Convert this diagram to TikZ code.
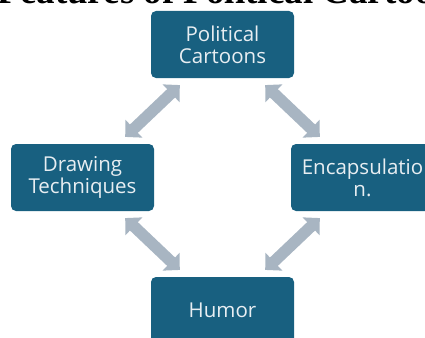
\documentclass[tikz,border=0pt]{standalone}
\usepackage{fontspec}
\setmainfont{Liberation Serif}
\newfontfamily\boxfont{Open Sans}
\usetikzlibrary{arrows.meta,calc}
\definecolor{boxblue}{RGB}{24,96,128}
\definecolor{arrowgray}{RGB}{168,181,194}
\definecolor{boxtext}{RGB}{232,238,242}
\tikzset{
  topicbox/.style={fill=boxblue, rounded corners=5pt, minimum width=143pt, minimum height=67pt,
    inner sep=0pt, text=boxtext, align=center, font=\boxfont\fontsize{20.5}{22}\selectfont},
  dblarrow/.style={draw=arrowgray, line width=11.5pt,
    {Triangle[width=24pt,length=12pt]}-{Triangle[width=24pt,length=12pt]}}
}
\begin{document}
\begin{tikzpicture}[x=1pt,y=-1pt]
\useasboundingbox (0,0) rectangle (425,337);
\clip (0,0) rectangle (425,337);
\node[anchor=base, inner sep=0pt, font=\bfseries\fontsize{37}{40}\selectfont] (title) at (233,3.5) {Features of Political Cartoons};
\node[topicbox] (pc) at (222.5,44.5) {Political\\Cartoons};
\node[topicbox] (dt) at (82.5,177.5) {Drawing\\Techniques};
\node[topicbox] (en) at (362.5,177.5) {Encapsulatio\\n.};
\node[topicbox] (hu) at (222.5,310.5) {Humor};
\draw[dblarrow] ($(pc)!0.305!(dt)$) -- ($(pc)!0.695!(dt)$);
\draw[dblarrow] ($(pc)!0.305!(en)$) -- ($(pc)!0.695!(en)$);
\draw[dblarrow] ($(dt)!0.305!(hu)$) -- ($(dt)!0.695!(hu)$);
\draw[dblarrow] ($(en)!0.305!(hu)$) -- ($(en)!0.695!(hu)$);
\end{tikzpicture}
\end{document}
